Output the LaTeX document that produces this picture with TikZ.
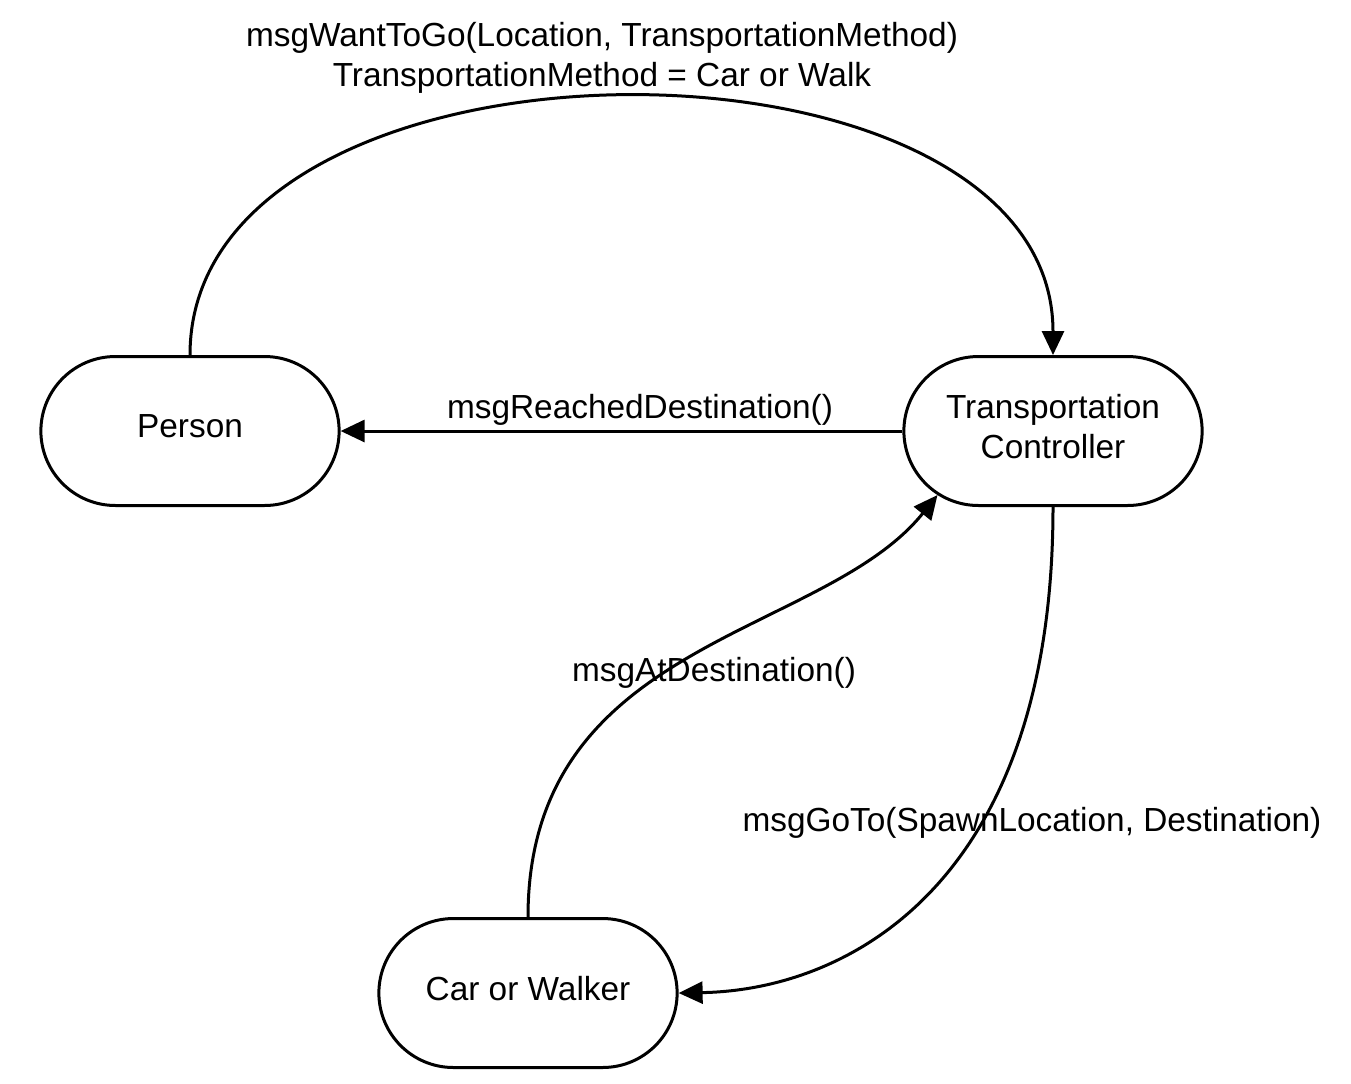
\documentclass[tikz,border=0pt]{standalone}
\usepackage{fontspec}
\setmainfont{Liberation Sans}
\usetikzlibrary{arrows.meta,positioning,shapes.misc}

\begin{document}
\begin{tikzpicture}[x=0.02cm,y=-0.02cm,
    line width=0.06cm,
    state/.style={draw, rounded rectangle, minimum width=6.2cm, minimum height=2.98cm,
                  text depth=0.2cm, align=center, font=\fontsize{19}{22.8}\selectfont},
    msg/.style={font=\fontsize{19}{22.8}\selectfont, align=center, inner sep=0pt},
    >={Triangle[length=0.48cm,width=0.44cm]}]
            \useasboundingbox (0,0) rectangle (1351,1083);
            % states
            \node[state] (person) at (190,431) {Person};
            \node[state] (ctrl) at (1053,431) {Transportation\\Controller};
            \node[state] (car) at (528,993) {Car or Walker};
            % messages
            \draw[->] (person.north) to[out=90,in=90,looseness=1.02] (ctrl.north);
            \node[msg] (wantlbl) at (602,58) {msgWantToGo(Location, TransportationMethod)\\TransportationMethod = Car or Walk};
            \draw[->] (ctrl.west) -- (person.east);
            \node[msg] (reachlbl) at (640,410) {msgReachedDestination()};
            \draw[->] (car.north) .. controls +(0,-278) and +(-115,143) .. (ctrl.-151);
            \node[msg] (atlbl) at (714,673) {msgAtDestination()};
            \draw[->] (ctrl.south) .. controls +(0,374) and +(172,-3) .. (car.east);
            \node[msg] (gotolbl) at (1032,823) {msgGoTo(SpawnLocation, Destination)};
\end{tikzpicture}
\end{document}
